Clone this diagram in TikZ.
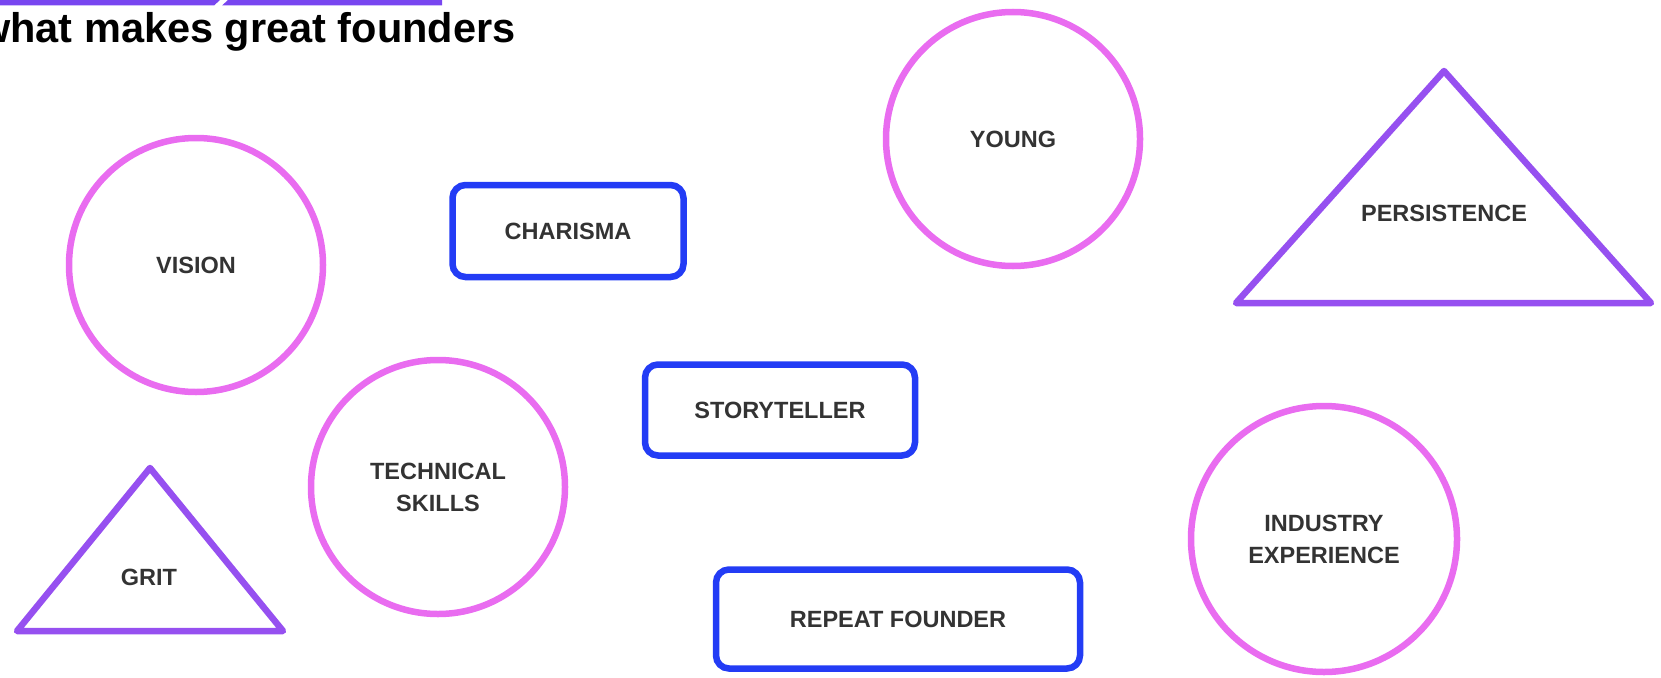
\documentclass[tikz,border=0pt]{standalone}
\usepackage{fontspec}
\setmainfont{Liberation Sans}

\definecolor{ringpink}{HTML}{E96CF0}
\definecolor{tripurple}{HTML}{9650F0}
\definecolor{boxblue}{HTML}{233CF5}
\definecolor{barpurple}{HTML}{7846F0}
\definecolor{ink}{HTML}{333333}

\newcommand{\traitfont}{\bfseries\fontsize{23.5}{32}\selectfont}
\newcommand{\headfont}{\bfseries\fontsize{41.5}{48}\selectfont}

\begin{document}
\begin{tikzpicture}[x=1pt, y=-1pt,
    trait/.style={font=\traitfont, text=ink, align=center, inner sep=0pt},
    traitring/.style={trait, circle, draw=ringpink, line width=6.5pt, minimum size=254pt},
    traitbox/.style={trait, rectangle, rounded corners=13pt, draw=boxblue, line width=6.5pt},
    traittri/.style={draw=tripurple, line width=6.5pt, line join=round}]

      \useasboundingbox (0,0) rectangle (1661,677);
      \clip (0,0) rectangle (1661,677);

      % heading with the bar above it
      \fill[barpurple] (0,0) -- (220,0) -- (214,5.5) -- (0,5.5) -- cycle;
      \fill[barpurple] (228,0) -- (442,0) -- (442,5.5) -- (222,5.5) -- cycle;
      \node[anchor=base west, inner sep=0pt, font=\headfont] (title) at (-22,43) {what makes great founders};

      % circles
      \node[traitring] (vision) at (196,265) {VISION};
      \node[traitring] (young) at (1013,139) {YOUNG};
      \node[traitring] (technical) at (438,487) {TECHNICAL\\SKILLS};
      \node[traitring, minimum size=266pt] (industry) at (1324,539) {INDUSTRY\\EXPERIENCE};

      % boxes
      \node[traitbox, minimum width=231pt, minimum height=92pt] (charisma) at (568,231) {CHARISMA};
      \node[traitbox, minimum width=270pt, minimum height=91pt] (storyteller) at (780,410) {STORYTELLER};
      \node[traitbox, minimum width=364pt, minimum height=99pt] (repeat) at (898,619) {REPEAT FOUNDER};

      % triangles
      \draw[traittri] (1444,71) -- (1651,303) -- (1236,303) -- cycle;
      \node[trait] (persistence) at (1444,213) {PERSISTENCE};

      \draw[traittri] (150,468) -- (283,631) -- (17,631) -- cycle;
      \node[trait] (grit) at (149,577) {GRIT};
    \end{tikzpicture}
\end{document}
